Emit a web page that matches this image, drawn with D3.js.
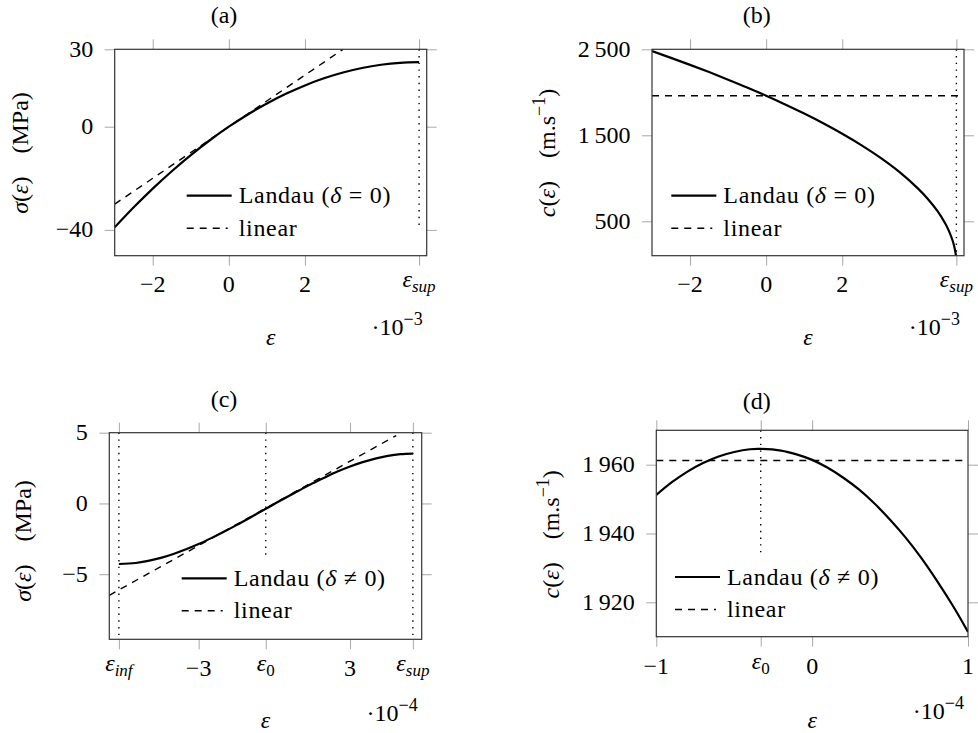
<!DOCTYPE html>
<html>
<head>
<meta charset="utf-8">
<script src="https://cdn.jsdelivr.net/npm/d3@7"></script>
<style>
  body { margin: 0; background: #fff; }
  svg { display: block; }
  text { font-family: "Liberation Serif", "Times New Roman", serif; font-size: 24px; fill: #000; }
  .legend { letter-spacing: 0.7px; }
  .tick line { stroke: #a8a8a8; stroke-width: 1; }
</style>
</head>
<body>
<svg id="chart" width="978" height="733"></svg>
<script>
// (a) stress, delta = 0, strain in 1e-3
const epsA = [-3, -2.5, -2, -1.5, -1, -0.5, 0, 0.5, 1, 1.5, 2, 2.5, 3, 3.5, 4, 4.5, 5];
const sigmaA = [-39, -31.25, -24, -17.25, -11, -5.25, 0, 4.75, 9, 12.75, 16, 18.75, 21, 22.75, 24, 24.75, 25];
const linEpsA = [-3, 3];
const linSigmaA = [-30, 30];
const epsSupA = 5.0;

// (b) wave speed, delta = 0, strain in 1e-3
const epsB = [-3, -2.5, -2, -1.5, -1, -0.5, 0, 0.5, 1, 1.5, 2, 2.5, 3, 3.5, 4, 4.25, 4.5, 4.7, 4.8, 4.9, 4.95, 4.99];
const speedB = [2479, 2400, 2319, 2235, 2147, 2056, 1960, 1859, 1753, 1640, 1518, 1386, 1240, 1074, 877, 759, 620, 480, 392, 277, 196, 100];
const linEpsB = [-3, 5.2];
const linSpeedB = [1960, 1960];
const epsSupB = 5.0;

// (c) stress, delta != 0, strain in 1e-4
const epsC = [-6.16, -5.5, -5, -4.5, -4, -3.5, -3, -2.5, -2, -1.5, -1, -0.34, 0, 0.5, 1, 1.5, 2, 2.5, 3, 3.5, 4, 4.5, 5, 5.49];
const sigmaC = [-4.28, -4.21, -4.06, -3.85, -3.57, -3.24, -2.87, -2.45, -2.0, -1.53, -1.04, -0.38, -0.04, 0.46, 0.94, 1.41, 1.84, 2.25, 2.61, 2.92, 3.17, 3.36, 3.48, 3.52];
const linEpsC = [-6.54, 4.83];
const linSigmaC = [-6.49, 4.8];
const epsInfC = -6.16;
const eps0C = -0.34;
const epsSupC = 5.49;

// (d) wave speed, delta != 0, strain in 1e-4
const epsD = [-1, -0.9, -0.8, -0.7, -0.6, -0.5, -0.4, -0.33, -0.2, -0.1, 0, 0.1, 0.2, 0.3, 0.4, 0.5, 0.6, 0.7, 0.8, 0.9, 1];
const speedD = [1951.2, 1954.9, 1958.0, 1960.5, 1962.4, 1963.7, 1964.5, 1964.6, 1964.1, 1963.0, 1961.4, 1959.1, 1956.2, 1952.8, 1948.7, 1944.0, 1938.8, 1932.9, 1926.3, 1919.2, 1911.4];
const linEpsD = [-1, 1];
const linSpeedD = [1961.2, 1961.2];
const eps0D = -0.33;

// tick labels: [text, style] pieces
const epsSupLabel = [["ε", "i"], ["sup", "isub"]];
const epsInfLabel = [["ε", "i"], ["inf", "isub"]];
const eps0Label = [["ε", "i"], ["0", "rsub"]];

const svg = d3.select("#chart");

function mathText(parent, parts) {
  const text = parent.append("text");
  let shift = 0;
  parts.forEach(([str, style, dx]) => {
    const span = text.append("tspan").text(str);
    let target = 0;
    if (style.includes("i")) span.attr("font-style", "italic");
    if (style.includes("sub")) { span.attr("font-size", "17px"); target = 5; }
    if (style.includes("sup")) { span.attr("font-size", "18px"); target = -10; }
    if (target !== shift) { span.attr("dy", target - shift); shift = target; }
    if (dx) span.attr("dx", dx);
  });
  return text;
}

function series(xs, ys) {
  return xs.map((v, i) => [v, ys[i]]);
}

function drawPanel(p) {
  const x = d3.scaleLinear().domain(p.xDomain).range([p.left, p.right]);
  const y = d3.scaleLinear().domain(p.yDomain).range([p.bottom, p.top]);
  const g = svg.append("g");

  g.append("clipPath").attr("id", "clip-" + p.id)
    .append("rect")
    .attr("x", p.left).attr("y", p.top)
    .attr("width", p.right - p.left).attr("height", p.bottom - p.top);

  const xVals = p.xTicks.map((d) => d.v);
  const yVals = p.yTicks.map((d) => d.v);
  const axes = [
    [d3.axisBottom(x).tickValues(xVals), `translate(0,${p.bottom})`],
    [d3.axisTop(x).tickValues(xVals), `translate(0,${p.top})`],
    [d3.axisLeft(y).tickValues(yVals), `translate(${p.left},0)`],
    [d3.axisRight(y).tickValues(yVals), `translate(${p.right},0)`],
  ];
  axes.forEach(([axis, tr]) => {
    const a = g.append("g").attr("transform", tr)
      .call(axis.tickSize(10).tickSizeOuter(0).tickFormat(() => ""));
    a.select(".domain").remove();
    a.selectAll("text").remove();
  });

  const line = d3.line().x((d) => x(d[0])).y((d) => y(d[1])).curve(d3.curveCatmullRom.alpha(0.5));
  const plot = g.append("g").attr("clip-path", `url(#clip-${p.id})`);

  p.dotted.forEach((d) => {
    plot.append("line")
      .attr("x1", x(d.x)).attr("x2", x(d.x))
      .attr("y1", y(d.y0)).attr("y2", y(d.y1))
      .attr("stroke", "#000").attr("stroke-width", 1.4)
      .attr("stroke-dasharray", "1.4,5.3");
  });

  plot.append("path").datum(p.linear)
    .attr("d", d3.line().x((d) => x(d[0])).y((d) => y(d[1])))
    .attr("fill", "none").attr("stroke", "#000")
    .attr("stroke-width", 1.4).attr("stroke-dasharray", "7,6");

  plot.append("path").datum(p.landau)
    .attr("d", line)
    .attr("fill", "none").attr("stroke", "#000").attr("stroke-width", 2.2);

  g.append("rect")
    .attr("x", p.left).attr("y", p.top)
    .attr("width", p.right - p.left).attr("height", p.bottom - p.top)
    .attr("fill", "none").attr("stroke", "#333").attr("stroke-width", 1.2);

  // x tick labels, top-aligned like pgfplots
  p.xTicks.forEach((t) => {
    const short = Array.isArray(t.label);
    const parts = short ? t.label : [[t.label, "r"]];
    mathText(g, parts)
      .attr("x", x(t.v)).attr("y", p.bottom + p.xLabelDy - (short ? 5 : 0))
      .attr("text-anchor", "middle");
  });

  p.yTicks.forEach((t) => {
    g.append("text")
      .attr("x", p.left - 21.5).attr("y", y(t.v) + 7.5)
      .attr("text-anchor", "end").text(t.label);
  });

  g.append("text").attr("x", p.titleX).attr("y", p.titleY)
    .attr("text-anchor", "middle").text(p.title);

  mathText(g, p.yTitle)
    .attr("text-anchor", "middle")
    .attr("transform", `translate(${p.yTitleX},${p.yTitleY}) rotate(-90)`);

  g.append("text").attr("x", (p.left + p.right) / 2).attr("y", p.xTitleY)
    .attr("text-anchor", "middle").attr("font-style", "italic").text("ε");

  mathText(g, [["·10", "r"], [p.exponent, "rsup"]])
    .attr("x", p.right - 4).attr("y", p.expY).attr("text-anchor", "end");

  // legend
  const lx = p.left + p.legendDx;
  const ly = p.top + p.legendDy;
  g.append("line").attr("x1", lx).attr("x2", lx + 45).attr("y1", ly).attr("y2", ly)
    .attr("stroke", "#000").attr("stroke-width", 2.2);
  g.append("line").attr("x1", lx).attr("x2", lx + 41).attr("y1", ly + 32.5).attr("y2", ly + 32.5)
    .attr("stroke", "#000").attr("stroke-width", 1.4).attr("stroke-dasharray", "7,6");
  mathText(g, p.legendText).attr("class", "legend").attr("x", lx + 52).attr("y", ly + 7.5);
  g.append("text").attr("class", "legend").attr("x", lx + 52).attr("y", ly + 40).text("linear");
}

const sigmaTitle = [["σ", "i"], ["(", "r"], ["ε", "i"], [")", "r"], ["(MPa)", "r", 23]];
const speedTitle = [["c", "i"], ["(", "r"], ["ε", "i"], [")", "r"], ["(m.s", "r", 23], ["−1", "rsup"], [")", "r"]];
const legendZero = [["Landau (", "r"], ["δ", "i"], [" = 0)", "r"]];
const legendNonZero = [["Landau (", "r"], ["δ", "i"], [" ≠ 0)", "r"]];

const panels = [
  {
    id: "a", title: "(a)", titleX: 224, titleY: 22.5,
    left: 114.7, right: 426.7, top: 49.3, bottom: 255.7,
    xDomain: [-3, 5.2], yDomain: [-50, 30],
    xTicks: [{ v: -2, label: "−2" }, { v: 0, label: "0" }, { v: 2, label: "2" }, { v: epsSupA, label: epsSupLabel }],
    yTicks: [{ v: -40, label: "−40" }, { v: 0, label: "0" }, { v: 30, label: "30" }],
    xLabelDy: 36.5,
    landau: series(epsA, sigmaA), linear: series(linEpsA, linSigmaA),
    dotted: [{ x: epsSupA, y0: 30, y1: -40 }],
    yTitle: sigmaTitle, yTitleX: 27.5, yTitleY: 153,
    xTitleY: 345, exponent: "−3", expY: 335,
    legendDx: 72, legendDy: 146.4, legendText: legendZero,
  },
  {
    id: "b", title: "(b)", titleX: 756.7, titleY: 22.5,
    left: 652, right: 964, top: 49.3, bottom: 255.7,
    xDomain: [-3, 5.2], yDomain: [100, 2500],
    xTicks: [{ v: -2, label: "−2" }, { v: 0, label: "0" }, { v: 2, label: "2" }, { v: epsSupB, label: epsSupLabel }],
    yTicks: [{ v: 500, label: "500" }, { v: 1500, label: "1\u2009500" }, { v: 2500, label: "2\u2009500" }],
    xLabelDy: 36.5,
    landau: series(epsB, speedB), linear: series(linEpsB, linSpeedB),
    dotted: [{ x: epsSupB, y0: 2500, y1: 100 }],
    yTitle: speedTitle, yTitleX: 555, yTitleY: 153,
    xTitleY: 345, exponent: "−3", expY: 335,
    legendDx: 19.3, legendDy: 146.4, legendText: legendZero,
  },
  {
    id: "c", title: "(c)", titleX: 224, titleY: 407,
    left: 109.3, right: 421.7, top: 432.7, bottom: 639.3,
    xDomain: [-6.54, 5.84], yDomain: [-9.6, 5],
    xTicks: [{ v: epsInfC, label: epsInfLabel }, { v: -3, label: "−3" }, { v: eps0C, label: eps0Label }, { v: 3, label: "3" }, { v: epsSupC, label: epsSupLabel }],
    yTicks: [{ v: -5, label: "−5" }, { v: 0, label: "0" }, { v: 5, label: "5" }],
    xLabelDy: 37,
    landau: series(epsC, sigmaC), linear: series(linEpsC, linSigmaC),
    dotted: [{ x: epsInfC, y0: 5, y1: -9.6 }, { x: eps0C, y0: 5, y1: -3.7 }, { x: epsSupC, y0: 5, y1: -9.6 }],
    yTitle: sigmaTitle, yTitleX: 31, yTitleY: 541,
    xTitleY: 727.7, exponent: "−4", expY: 721,
    legendDx: 72.4, legendDy: 145.6, legendText: legendNonZero,
  },
  {
    id: "d", title: "(d)", titleX: 756.7, titleY: 408.5,
    left: 656.3, right: 968, top: 430.3, bottom: 636.7,
    xDomain: [-1, 1], yDomain: [1910, 1970],
    xTicks: [{ v: -1, label: "−1" }, { v: eps0D, label: eps0Label }, { v: 0, label: "0" }, { v: 1, label: "1" }],
    yTicks: [{ v: 1920, label: "1\u2009920" }, { v: 1940, label: "1\u2009940" }, { v: 1960, label: "1\u2009960" }],
    xLabelDy: 37.5,
    landau: series(epsD, speedD), linear: series(linEpsD, linSpeedD),
    dotted: [{ x: eps0D, y0: 1970, y1: 1934 }],
    yTitle: speedTitle, yTitleX: 558.5, yTitleY: 534.3,
    xTitleY: 727.7, exponent: "−4", expY: 719.3,
    legendDx: 18.7, legendDy: 146.7, legendText: legendNonZero,
  },
];

panels.forEach(drawPanel);
</script>
</body>
</html>
